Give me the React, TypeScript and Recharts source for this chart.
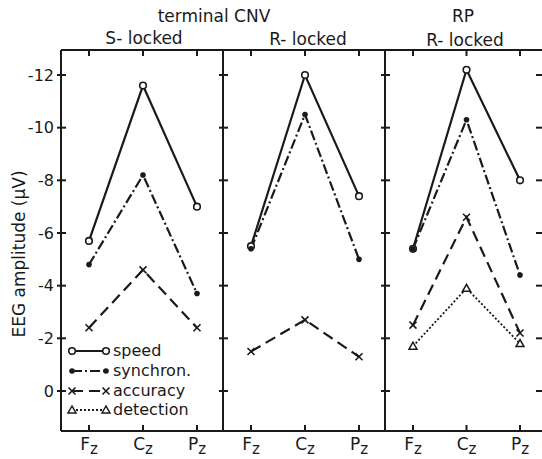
import React from 'react';
import { LineChart, Line, XAxis, YAxis, Legend } from 'recharts';

const sites = ['Fz', 'Cz', 'Pz'];
const yTicks = [-12, -10, -8, -6, -4, -2, 0];

const sLockedSpeed = [-5.7, -11.6, -7.0];
const sLockedSynchron = [-4.8, -8.2, -3.7];
const sLockedAccuracy = [-2.4, -4.6, -2.4];

const rLockedSpeed = [-5.5, -12.0, -7.4];
const rLockedSynchron = [-5.4, -10.5, -5.0];
const rLockedAccuracy = [-1.5, -2.7, -1.3];

const rpSpeed = [-5.4, -12.2, -8.0];
const rpSynchron = [-5.4, -10.3, -4.4];
const rpAccuracy = [-2.5, -6.6, -2.2];
const rpDetection = [-1.7, -3.9, -1.8];

const legendNames = ['speed', 'synchron.', 'accuracy', 'detection'];

const INK = '#1a1a1a';
const FONT = '"DejaVu Sans", "Liberation Sans", sans-serif';
const Y_DOMAIN: [number, number] = [-12.95, 1.52];

type SeriesKey = 'speed' | 'synchron' | 'accuracy' | 'detection';

const styles: Record<SeriesKey, { dash?: string; width: number }> = {
  speed: { width: 2.2 },
  synchron: { dash: '10 3 2 3', width: 2.2 },
  accuracy: { dash: '11 6', width: 2.2 },
  detection: { dash: '2 2', width: 1.8 },
};

function build(speed: number[], synchron: number[], accuracy: number[], detection?: number[]) {
  return sites.map((site, i) => ({
    site,
    speed: speed[i],
    synchron: synchron[i],
    accuracy: accuracy[i],
    detection: detection ? detection[i] : undefined,
  }));
}

const sLockedData = build(sLockedSpeed, sLockedSynchron, sLockedAccuracy);
const rLockedData = build(rLockedSpeed, rLockedSynchron, rLockedAccuracy);
const rpData = build(rpSpeed, rpSynchron, rpAccuracy, rpDetection);

function Marker({ type, cx, cy }: { type: SeriesKey; cx: number; cy: number }) {
  if (cx == null || cy == null) return null;
  if (type === 'speed')
    return <circle cx={cx} cy={cy} r={3.3} fill="#fff" stroke={INK} strokeWidth={1.6} />;
  if (type === 'synchron') return <circle cx={cx} cy={cy} r={2.8} fill={INK} stroke="none" />;
  if (type === 'accuracy')
    return (
      <g stroke={INK} strokeWidth={1.6}>
        <line x1={cx - 3.5} y1={cy - 3.5} x2={cx + 3.5} y2={cy + 3.5} />
        <line x1={cx - 3.5} y1={cy + 3.5} x2={cx + 3.5} y2={cy - 3.5} />
      </g>
    );
  return (
    <polygon
      points={`${cx},${cy - 4} ${cx - 4},${cy + 3} ${cx + 4},${cy + 3}`}
      fill="#fff"
      stroke={INK}
      strokeWidth={1.5}
    />
  );
}

const BottomTick = (props: any) => {
  const { x, y, payload } = props;
  const v: string = payload.value;
  return (
    <g>
      <line x1={x} x2={x} y1={y} y2={y - 6} stroke={INK} strokeWidth={2} />
      <text x={x} y={y + 19} textAnchor="middle" fontSize={17} fontFamily={FONT} fill={INK}>
        <tspan>{v[0]}</tspan>
        <tspan fontSize={15} dy={4}>
          {v.slice(1).toLowerCase()}
        </tspan>
      </text>
    </g>
  );
};

const TopTick = (props: any) => {
  const { x, y } = props;
  return <line x1={x} x2={x} y1={y} y2={y + 6} stroke={INK} strokeWidth={2} />;
};

const makeLeftTick = (showLabel: boolean) => (props: any) => {
  const { x, y, payload } = props;
  return (
    <g>
      <line x1={x - 4} x2={x + 5} y1={y} y2={y} stroke={INK} strokeWidth={2} />
      {showLabel && (
        <text
          x={x - 7}
          y={y}
          dy="0.36em"
          textAnchor="end"
          fontSize={16}
          fontFamily={FONT}
          fill={INK}
        >
          {payload.value === 0 ? '0' : `-${Math.abs(payload.value)}`}
        </text>
      )}
    </g>
  );
};

const RightTick = (props: any) => {
  const { x, y } = props;
  return <line x1={x - 10} x2={x + 4} y1={y} y2={y} stroke={INK} strokeWidth={2} />;
};

const LegendContent = () => {
  const keys: SeriesKey[] = ['speed', 'synchron', 'accuracy', 'detection'];
  const rowY = [12, 32, 52, 71];
  return (
    <svg width={160} height={84} style={{ display: 'block', overflow: 'visible' }}>
      {keys.map((k, i) => (
        <g key={k}>
          <line
            x1={7}
            x2={41}
            y1={rowY[i] + 1}
            y2={rowY[i] + 1}
            stroke={INK}
            strokeWidth={styles[k].width}
            strokeDasharray={styles[k].dash}
          />
          <Marker type={k} cx={7} cy={rowY[i] + 1} />
          <Marker type={k} cx={41} cy={rowY[i] + 1} />
          <text
            x={48}
            y={rowY[i]}
            dy="0.36em"
            fontSize={16}
            fontFamily={FONT}
            fill={INK}
          >
            {legendNames[i]}
          </text>
        </g>
      ))}
    </svg>
  );
};

type PanelProps = {
  data: any[];
  left: number;
  right: number;
  chartWidth: number;
  showYLabels?: boolean;
  rightBorder?: boolean;
  legend?: boolean;
  series: SeriesKey[];
};

function Panel({ data, left, right, chartWidth, showYLabels, rightBorder, legend, series }: PanelProps) {
  const H = 459;
  const top = 50;
  const bottom = 431;
  const margin = {
    top: top - 10,
    bottom: H - bottom - 20,
    left: left - 10,
    right: chartWidth - right - (rightBorder ? 10 : 0),
  };
  return (
    <div style={{ position: 'absolute', left: 0, top: 0 }}>
      <LineChart width={chartWidth} height={H} data={data} margin={margin}>
        <XAxis
          dataKey="site"
          scale="point"
          padding={{ left: 28, right: 26 }}
          height={20}
          tickSize={0}
          tickMargin={0}
          tickLine={false}
          axisLine={{ stroke: INK, strokeWidth: 2 }}
          tick={<BottomTick />}
          interval={0}
        />
        <XAxis
          xAxisId="top"
          orientation="top"
          dataKey="site"
          scale="point"
          padding={{ left: 28, right: 26 }}
          height={10}
          tickSize={0}
          tickMargin={0}
          tickLine={false}
          axisLine={{ stroke: INK, strokeWidth: 2 }}
          tick={<TopTick />}
          interval={0}
        />
        <YAxis
          type="number"
          domain={Y_DOMAIN}
          reversed
          ticks={yTicks}
          width={10}
          tickSize={0}
          tickMargin={0}
          tickLine={false}
          axisLine={{ stroke: INK, strokeWidth: 2 }}
          tick={makeLeftTick(!!showYLabels)}
          allowDataOverflow
        />
        {rightBorder && (
          <YAxis
            yAxisId="right"
            orientation="right"
            type="number"
            domain={Y_DOMAIN}
            reversed
            ticks={yTicks}
            width={10}
            tickSize={0}
            tickMargin={0}
            tickLine={false}
            axisLine={{ stroke: INK, strokeWidth: 2 }}
            tick={<RightTick />}
            allowDataOverflow
          />
        )}
        <Line
          xAxisId="top"
          dataKey="speed"
          stroke="none"
          dot={false}
          legendType="none"
          isAnimationActive={false}
        />
        {rightBorder && (
          <Line
            yAxisId="right"
            dataKey="speed"
            stroke="none"
            dot={false}
            legendType="none"
            isAnimationActive={false}
          />
        )}
        {series.map((k) => (
          <Line
            key={k}
            type="linear"
            dataKey={k}
            stroke={INK}
            strokeWidth={styles[k].width}
            strokeDasharray={styles[k].dash}
            isAnimationActive={false}
            dot={(p: any) => <Marker key={`${k}-${p.index}`} type={k} cx={p.cx} cy={p.cy} />}
            activeDot={false}
          />
        ))}
        {legend && (
          <Legend
            layout="vertical"
            align="center"
            verticalAlign="middle"
            content={<LegendContent />}
            wrapperStyle={{ position: 'absolute', left: 65, top: 338, width: 160, height: 84 }}
          />
        )}
      </LineChart>
    </div>
  );
}

const titleStyle: React.CSSProperties = {
  position: 'absolute',
  transform: 'translate(-50%, -50%)',
  whiteSpace: 'nowrap',
  fontFamily: FONT,
  fontSize: 17,
  color: INK,
  lineHeight: 1,
};

export default function App() {
  return (
    <div
      style={{
        position: 'absolute',
        left: 0,
        top: 0,
        width: 542,
        height: 459,
        overflow: 'hidden',
        background: '#fff',
      }}
    >
      <Panel
        data={sLockedData}
        left={61}
        right={223}
        chartWidth={542}
        showYLabels
        legend
        series={['speed', 'synchron', 'accuracy']}
      />
      <Panel
        data={rLockedData}
        left={223}
        right={385}
        chartWidth={542}
        series={['speed', 'synchron', 'accuracy']}
      />
      <Panel
        data={rpData}
        left={385}
        right={546}
        chartWidth={560}
        rightBorder
        series={['speed', 'synchron', 'accuracy', 'detection']}
      />
      <div style={{ ...titleStyle, left: 214, top: 16 }}>terminal CNV</div>
      <div style={{ ...titleStyle, left: 144, top: 38 }}>S- locked</div>
      <div style={{ ...titleStyle, left: 308, top: 39 }}>R- locked</div>
      <div style={{ ...titleStyle, left: 463, top: 16 }}>RP</div>
      <div style={{ ...titleStyle, left: 465, top: 40 }}>R- locked</div>
      <div
        style={{
          ...titleStyle,
          left: 19,
          top: 254,
          transform: 'translate(-50%, -50%) rotate(-90deg)',
        }}
      >
        EEG amplitude (μV)
      </div>
    </div>
  );
}
